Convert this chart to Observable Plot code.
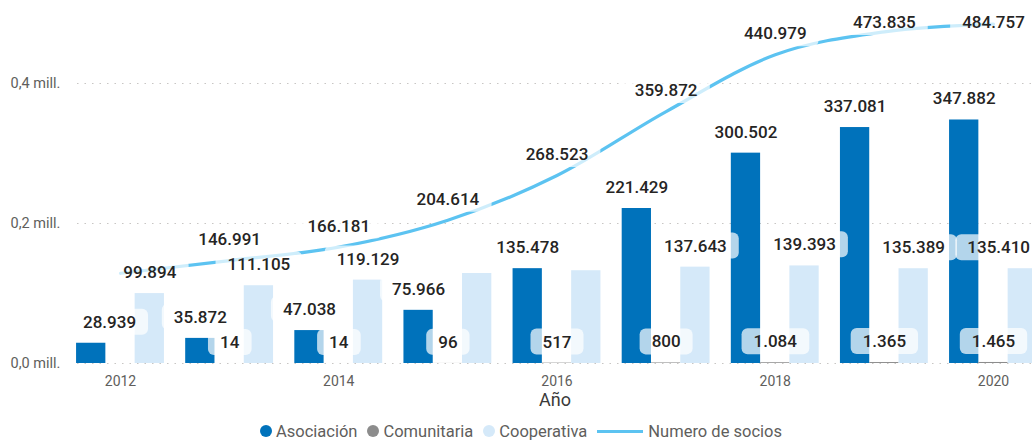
<!DOCTYPE html>
<html><head><meta charset="utf-8">
<script src="https://cdn.jsdelivr.net/npm/d3@7"></script>
<script src="https://cdn.jsdelivr.net/npm/@observablehq/plot@0.6"></script>
<style>
html,body{margin:0;padding:0;background:#fff;overflow:hidden;width:1032px;height:440px;}
#chart{width:1032px;height:422px;overflow:hidden;}
#chart svg{overflow:hidden;}
.legend{height:18px;display:flex;justify-content:center;align-items:center;padding-left:10px;
  font-family:Roboto,sans-serif;font-size:16.5px;color:#605E5C;white-space:nowrap;}
.legend .item{display:flex;align-items:center;margin:0 5px;}
.legend .dot{width:12px;height:12px;border-radius:50%;margin-right:4px;}
.legend .ln{width:46px;height:3px;margin-right:5px;}
</style></head><body>
<div id="chart"></div>
<div class="legend" id="legend"></div>
<script>
// ---- data ----
const years = [2012, 2013, 2014, 2015, 2016, 2017, 2018, 2019, 2020];
const asociacion = [28939, 35872, 47038, 75966, 135478, 221429, 300502, 337081, 347882];
const comunitaria = [null, 14, 14, 96, 517, 800, 1084, 1365, 1465];
const cooperativa = [99894, 111105, 119129, 128552, 132528, 137643, 139393, 135389, 135410];
const socios = [128833, 146991, 166181, 204614, 268523, 359872, 440979, 473835, 484757];
const seriesNames = ["Asociación", "Comunitaria", "Cooperativa"];
const lineName = "Numero de socios";
const xTicks = [2012, 2014, 2016, 2018, 2020];
const yTicks = [0, 200000, 400000];
// labels that the original chart does not show
const hiddenLabels = [["Cooperativa", 2015], ["Cooperativa", 2016], [lineName, 2012]];

// ---- styles ----
const colors = ["#0072BB", "#8C8C8C", "#D5E9F9"];
const lineColor = "#5CC3F1";

const loc = d3.formatLocale({decimal: ",", thousands: ".", grouping: [3], currency: ["", "€"]});
const fmtInt = loc.format(",d");
const fmtMill = d => loc.format(".1f")(d / 1e6) + " mill.";

const isHidden = (s, y) => hiddenLabels.some(([hs, hy]) => hs === s && hy === y);

const seriesValues = [asociacion, comunitaria, cooperativa];
const bars = [];
years.forEach((yr, i) => {
  seriesNames.forEach((s, k) => {
    const v = seriesValues[k][i];
    if (v != null) bars.push({year: yr, serie: s, k, value: v});
  });
});
const lineRows = years.map((yr, i) => ({year: yr, value: socios[i]}));

// group layout (in year units)
const barW = 0.2684;
const x1 = d => d.year + (d.k - 1.5) * barW;
const x2 = d => d.year + (d.k - 0.5) * barW;
const xc = d => d.year + (d.k - 1) * barW;

const barLabels = bars.filter(d => !isHidden(d.serie, d.year));
const lineLabels = lineRows.filter(d => !isHidden(lineName, d.year));

const labelStyle = {fontSize: 17, fontWeight: 500, fill: "#252423", lineAnchor: "middle", dy: -21,
  fontFamily: "Roboto", className: "dlabel"};

const plot = Plot.plot({
  width: 1032,
  height: 422,
  marginLeft: 77,
  marginRight: 0,
  marginTop: 0,
  marginBottom: 59,
  style: {fontFamily: "Roboto, sans-serif", background: "#fff"},
  x: {type: "linear", domain: [2012, 2020], range: [120, 993], axis: null},
  y: {domain: [0, 363 / 700 * 1e6], axis: null},
  color: {domain: seriesNames, range: colors},
  marks: [
    Plot.ruleY(yTicks, {stroke: "#C8C6C4", strokeDasharray: "1.5,6", strokeWidth: 1.2}),
    Plot.text(yTicks, {y: d => d, text: fmtMill, frameAnchor: "left", textAnchor: "start", dx: -67,
      fontSize: 14.5, fill: "#605E5C"}),
    Plot.axisX({ticks: xTicks, tickFormat: d => String(d), tickSize: 0, tickPadding: 13,
      fontSize: 14, color: "#605E5C", label: null}),
    Plot.text(["Año"], {frameAnchor: "bottom", dy: 37, fontSize: 18, fill: "#3B3A39", lineAnchor: "middle"}),
    Plot.rectY(bars, {x1, x2, y: "value", fill: "serie"}),
    Plot.line(lineRows, {x: "year", y: "value", curve: "monotone-x", stroke: lineColor, strokeWidth: 3.2}),
    Plot.text(barLabels, {x: xc, y: "value", text: d => fmtInt(d.value), ...labelStyle}),
    Plot.text(lineLabels, {x: "year", y: d => Math.min(d.value, 457000), text: d => fmtInt(d.value), ...labelStyle})
  ]
});
document.getElementById("chart").appendChild(plot);

// keep labels inside the visible area and give each a rounded translucent background
const svgRect = plot.getBoundingClientRect();
plot.querySelectorAll(".dlabel text").forEach(t => {
  const cr = t.getBoundingClientRect();
  const left = cr.left - svgRect.left, right = cr.right - svgRect.left;
  let shift = 0;
  if (left - 12 < 71) shift = 71 - (left - 12);
  if (right + shift > 1030) shift = 1030 - right;
  const tr = t.getAttribute("transform") || "";
  if (shift) t.setAttribute("transform", `translate(${shift},0) ${tr}`);
  const bb = t.getBBox();
  const r = document.createElementNS("http://www.w3.org/2000/svg", "rect");
  const cy = bb.y + bb.height / 2;
  r.setAttribute("x", bb.x - 12);
  r.setAttribute("y", cy - 13);
  r.setAttribute("width", bb.width + 24);
  r.setAttribute("height", 26);
  r.setAttribute("rx", 6);
  r.setAttribute("fill", "rgba(255,255,255,0.7)");
  const ft = t.getAttribute("transform");
  if (ft) r.setAttribute("transform", ft);
  t.parentNode.insertBefore(r, t);
});

// legend
const lg = document.getElementById("legend");
seriesNames.forEach((s, k) => {
  const it = document.createElement("span"); it.className = "item";
  it.innerHTML = `<span class="dot" style="background:${colors[k]}"></span>${s}`;
  lg.appendChild(it);
});
const li = document.createElement("span"); li.className = "item";
li.innerHTML = `<span class="ln" style="background:${lineColor}"></span>${lineName}`;
lg.appendChild(li);
</script>
</body></html>
